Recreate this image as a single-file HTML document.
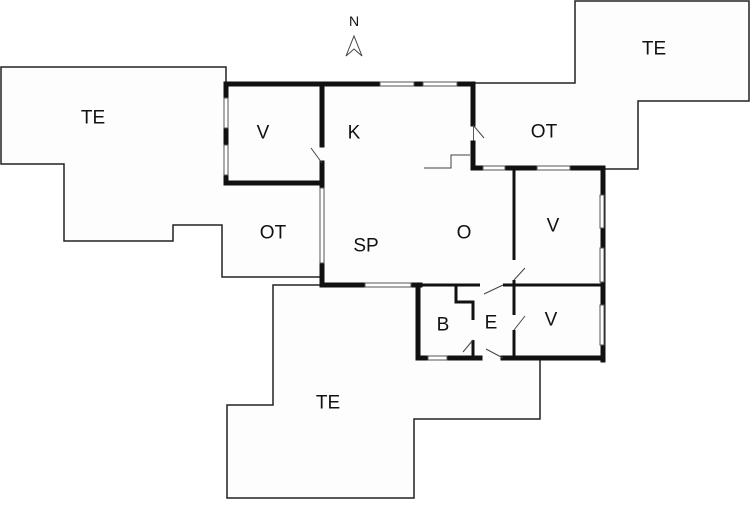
<!DOCTYPE html>
<html><head><style>
body{margin:0;background:#fff;width:750px;height:500px;overflow:hidden}
svg text{font-family:"Liberation Sans",sans-serif;font-size:19px;fill:#111;text-anchor:middle;dominant-baseline:central}
</style></head><body>
<svg width="750" height="500" viewBox="0 0 750 500">
<rect width="750" height="500" fill="#fff"/>
<g fill="#fdfdfd" stroke="#222" stroke-width="1.5">
<polygon points="1,67 226,67 226,84 322,84 322,277 222,277 222,225 173,225 173,241 64,241 64,164 1,164"/>
<polygon points="575,1 749,1 749,101 638,101 638,169 473,169 473,83 575,83"/>
<polygon points="273,285 420,285 420,358 540,358 540,419 414,419 414,498 227,498 227,405 273,405"/>
</g>
<polygon points="226,84 473,84 473,168 603,168 603,360 418,360 418,285 322,285 322,183 226,183" fill="#fdfdfd"/>
<g stroke="#111" stroke-width="5" fill="none" stroke-linecap="square">
<path d="M226,84 H473 M226,84 V183 H322 M322,84 V145 M322,163 V188 M322,263 V285 H420 M473,84 V124 M473,143 V168 H603 V360 M418,287 V358 H480 M503,358 H603"/>
</g>
<g stroke="#111" stroke-width="3" fill="none">
<path d="M514,168 V260 M514,280 V315 M514,330 V358 M420,285 H480 M503,285 H602 M456,285 V302 H473 V320 M473,340 V358"/>
</g>
<g fill="#fff" stroke="#555" stroke-width="1">
<rect x="380" y="82" width="34" height="4"/><rect x="423" y="82" width="34" height="4"/>
<rect x="224" y="98" width="4" height="30"/><rect x="224" y="145" width="4" height="30"/>
<rect x="320" y="188" width="4" height="75"/><rect x="365" y="283" width="46" height="4"/>
<rect x="483" y="166" width="22" height="4"/><rect x="537" y="166" width="33" height="4"/>
<rect x="600" y="195" width="4" height="33"/><rect x="600" y="248" width="4" height="34"/>
<rect x="600" y="305" width="4" height="40"/><rect x="428" y="356" width="19" height="4"/>
</g>
<g stroke="#444" stroke-width="1" fill="none">
<path d="M424,168 H451 V155 H470"/>
<path d="M322,163 L311,148 M473,125 L484,138 M514,280 L525,268 M503,285 L484,294 M514,330 L525,316 M473,340 L463,352 M503,358 L486,349"/>
<path d="M346,56 L354,36 L362,56 L354,49 Z"/>
</g>
<text x="354" y="21" style="font-size:14px">N</text>
<text x="93" y="118">TE</text><text x="263" y="133">V</text><text x="354" y="133">K</text>
<text x="544" y="132">OT</text><text x="654" y="49">TE</text><text x="273" y="233">OT</text>
<text x="366" y="246">SP</text><text x="464" y="233">O</text><text x="553" y="226">V</text>
<text x="443" y="325">B</text><text x="491" y="323">E</text><text x="551" y="320">V</text>
<text x="328" y="403">TE</text>
</svg>
</body></html>
